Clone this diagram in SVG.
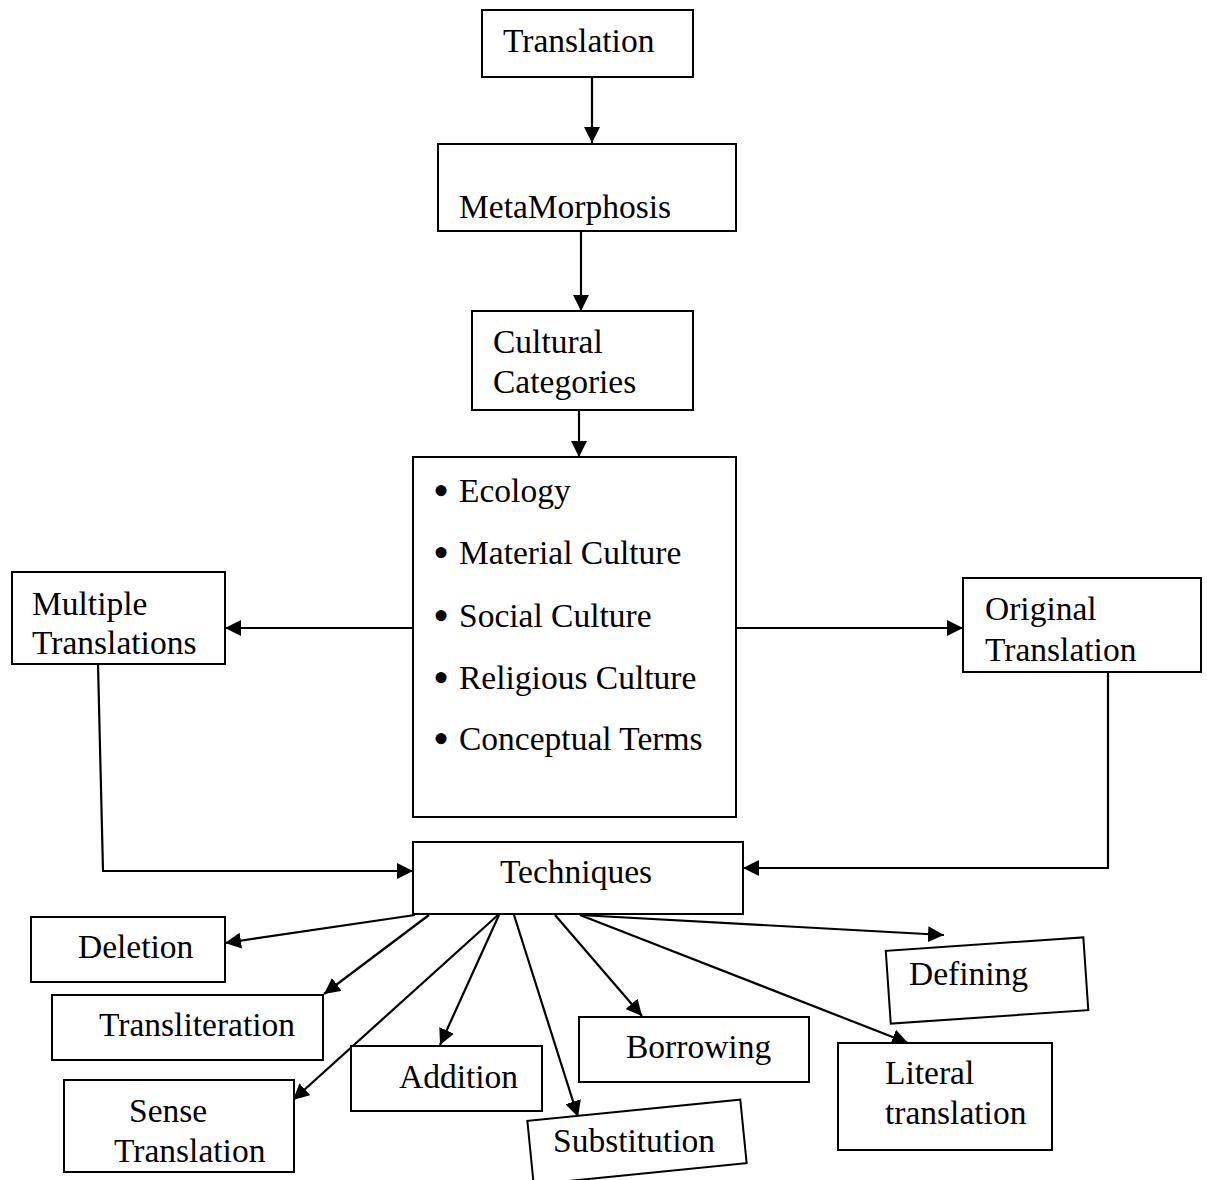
<svg xmlns="http://www.w3.org/2000/svg" width="1207" height="1180" viewBox="0 0 1207 1180">
<style>
.box{fill:#fff;stroke:#000;stroke-width:2}
.t{font-family:"Liberation Serif","Times New Roman",serif;font-size:33.5px;fill:#000}
.b{font-size:46px}
.c{fill:none;stroke:#000;stroke-width:2.2}
</style>
<defs>
<marker id="ah" markerUnits="userSpaceOnUse" markerWidth="18" markerHeight="16" refX="16" refY="8" orient="auto">
<path d="M0,0 L16,8 L0,16 z" fill="#000"/>
</marker>
</defs>
<rect width="1207" height="1180" fill="#fff"/>
<g id="connectors">
<line class="c" x1="592" y1="77" x2="592" y2="143" marker-end="url(#ah)"/>
<line class="c" x1="581" y1="231" x2="581" y2="311" marker-end="url(#ah)"/>
<line class="c" x1="579" y1="410" x2="579" y2="457" marker-end="url(#ah)"/>
<line class="c" x1="413" y1="628" x2="225" y2="628" marker-end="url(#ah)"/>
<line class="c" x1="736" y1="628" x2="963" y2="628" marker-end="url(#ah)"/>
<polyline class="c" points="98,664 103,871 413,871" marker-end="url(#ah)"/>
<polyline class="c" points="1108,672 1108,868 743,868" marker-end="url(#ah)"/>
<line class="c" x1="415" y1="915" x2="225" y2="943" marker-end="url(#ah)"/>
<line class="c" x1="429" y1="915" x2="324" y2="994" marker-end="url(#ah)"/>
<line class="c" x1="498" y1="915" x2="293" y2="1100" marker-end="url(#ah)"/>
<line class="c" x1="499" y1="915" x2="440" y2="1045" marker-end="url(#ah)"/>
<line class="c" x1="514" y1="915" x2="578" y2="1117" marker-end="url(#ah)"/>
<line class="c" x1="555" y1="915" x2="642" y2="1016" marker-end="url(#ah)"/>
<line class="c" x1="580" y1="915" x2="908" y2="1043" marker-end="url(#ah)"/>
<line class="c" x1="580" y1="915" x2="944" y2="935" marker-end="url(#ah)"/>
</g>
<g id="translation">
<rect class="box" x="482" y="10" width="211" height="67"/>
<text class="t" x="503" y="52">Translation</text>
</g>
<g id="metamorphosis">
<rect class="box" x="438" y="144" width="298" height="87"/>
<text class="t" x="459" y="218">MetaMorphosis</text>
</g>
<g id="cultural-categories">
<rect class="box" x="472" y="311" width="221" height="99"/>
<text class="t" x="493" y="353">Cultural</text>
<text class="t" x="493" y="393">Categories</text>
</g>
<g id="categories-list">
<rect class="box" x="413" y="457" width="323" height="360"/>
<text class="t" y="502"><tspan class="b" x="433" y="506">•</tspan><tspan x="459" y="502">Ecology</tspan></text>
<text class="t" y="564"><tspan class="b" x="433" y="568">•</tspan><tspan x="459" y="564">Material Culture</tspan></text>
<text class="t" y="627"><tspan class="b" x="433" y="631">•</tspan><tspan x="459" y="627">Social Culture</tspan></text>
<text class="t" y="689"><tspan class="b" x="433" y="693">•</tspan><tspan x="459" y="689">Religious Culture</tspan></text>
<text class="t" y="750"><tspan class="b" x="433" y="754">•</tspan><tspan x="459" y="750">Conceptual Terms</tspan></text>
</g>
<g id="multiple-translations">
<rect class="box" x="12" y="572" width="213" height="92"/>
<text class="t" x="32" y="615">Multiple</text>
<text class="t" x="32" y="654">Translations</text>
</g>
<g id="original-translation">
<rect class="box" x="963" y="578" width="238" height="94"/>
<text class="t" x="985" y="620">Original</text>
<text class="t" x="985" y="661">Translation</text>
</g>
<g id="techniques">
<rect class="box" x="413" y="842" width="330" height="72"/>
<text class="t" x="500" y="883">Techniques</text>
</g>
<g id="deletion">
<rect class="box" x="31" y="917" width="194" height="65"/>
<text class="t" x="78" y="958">Deletion</text>
</g>
<g id="transliteration">
<rect class="box" x="52" y="995" width="271" height="65"/>
<text class="t" x="99" y="1036">Transliteration</text>
</g>
<g id="sense-translation">
<rect class="box" x="64" y="1080" width="230" height="92"/>
<text class="t" x="129" y="1122">Sense</text>
<text class="t" x="114" y="1162">Translation</text>
</g>
<g id="addition">
<rect class="box" x="351" y="1046" width="191" height="65"/>
<text class="t" x="399" y="1088">Addition</text>
</g>
<g id="substitution">
<rect class="box" x="-107" y="-32" width="214" height="64" transform="translate(637,1142) rotate(-5.7)"/>
<text class="t" x="553" y="1152">Substitution</text>
</g>
<g id="borrowing">
<rect class="box" x="579" y="1017" width="230" height="65"/>
<text class="t" x="626" y="1058">Borrowing</text>
</g>
<g id="literal-translation">
<rect class="box" x="838" y="1043" width="214" height="107"/>
<text class="t" x="885" y="1084">Literal</text>
<text class="t" x="885" y="1124">translation</text>
</g>
<g id="defining">
<rect class="box" x="-99" y="-36" width="198" height="73" transform="translate(987,980) rotate(-3.9)"/>
<text class="t" x="909" y="985">Defining</text>
</g>
</svg>
